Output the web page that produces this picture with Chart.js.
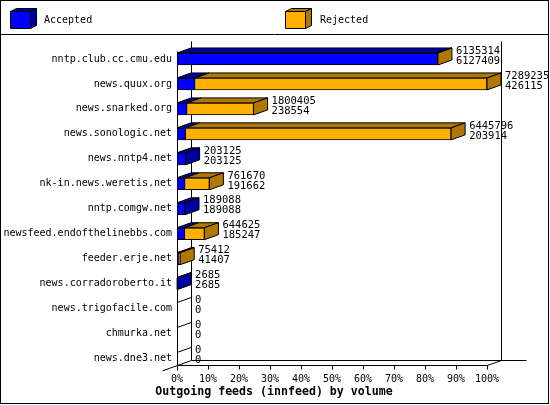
<!DOCTYPE html>
<html>
<head>
<meta charset="utf-8">
<script src="https://cdn.jsdelivr.net/npm/chart.js@4/dist/chart.umd.min.js"></script>
<style>
  html, body { margin: 0; padding: 0; background: #fff; }
  canvas { display: block; }
</style>
</head>
<body>
<canvas id="feedChart" width="550" height="405"></canvas>
<script>
// Data
const feeds = [
    'nntp.club.cc.cmu.edu', 'news.quux.org', 'news.snarked.org', 'news.sonologic.net',
    'news.nntp4.net', 'nk-in.news.weretis.net', 'nntp.comgw.net', 'newsfeed.endofthelinebbs.com',
    'feeder.erje.net', 'news.corradoroberto.it', 'news.trigofacile.com', 'chmurka.net', 'news.dne3.net'
];
const offered  = [6135314, 7289235, 1800405, 6445796, 203125, 761670, 189088, 644625, 75412, 2685, 0, 0, 0];
const accepted = [6127409, 426115, 238554, 203914, 203125, 191662, 189088, 185247, 41407, 2685, 0, 0, 0];
const rejected = [7905, 6863120, 1561851, 6241882, 0, 570008, 0, 459378, 34005, 0, 0, 0, 0];
const tickLabels = ['0%', '10%', '20%', '30%', '40%', '50%', '60%', '70%', '80%', '90%', '100%'];
const xMax = 7289235;

const DX = 14, DY = 5;
const colors = {
    accepted: { front: '#0000ff', dark: '#0000a0' },
    rejected: { front: '#ffb000', dark: '#b07800' }
};
const monoFont = '"DejaVu Sans Mono", "Liberation Mono", monospace';

function poly(ctx, pts, fill) {
    ctx.beginPath();
    ctx.moveTo(pts[0][0], pts[0][1]);
    for (let i = 1; i < pts.length; i++) ctx.lineTo(pts[i][0], pts[i][1]);
    ctx.closePath();
    if (fill) { ctx.fillStyle = fill; ctx.fill(); }
    ctx.strokeStyle = '#000';
    ctx.lineWidth = 1;
    ctx.stroke();
}

function line(ctx, x1, y1, x2, y2) {
    ctx.beginPath();
    ctx.moveTo(x1, y1);
    ctx.lineTo(x2, y2);
    ctx.stroke();
}

// Walls, floor, legend, title and the 3d faces of the bars
const bars3d = {
    id: 'bars3d',
    beforeDatasetsDraw(chart) {
        const ctx = chart.ctx;
        const xs = chart.scales.x, ys = chart.scales.y;
        const area = chart.chartArea;
        const x0 = Math.round(xs.getPixelForValue(0)) + 0.5;
        const x1 = Math.round(xs.getPixelForValue(xMax)) + 0.5;
        const lastBar = chart.getDatasetMeta(0).data[feeds.length - 1];
        const floorFront = Math.round(lastBar.y + lastBar.height / 2) + 0.5;
        const floorBack = floorFront - DY;
        const wallTop = Math.round(area.top) - 5.5;

        ctx.save();
        ctx.strokeStyle = '#000';
        ctx.lineWidth = 1;
        // back wall
        line(ctx, x0 + DX, wallTop, x0 + DX, floorBack);
        line(ctx, x1 + DX, wallTop, x1 + DX, floorBack);
        // floor
        line(ctx, x0 + DX, floorBack, x1 + DX + 25, floorBack);
        line(ctx, x0, floorFront, x1, floorFront);
        line(ctx, x1, floorFront, x1 + DX, floorBack);
        line(ctx, x0 + DX, floorBack, x0 - 15, floorFront + 15 * DY / DX);
        // front axis
        line(ctx, x0, Math.round(area.top) + 4.5, x0, floorFront + 5);
        xs.ticks.forEach(t => {
            const px = Math.round(xs.getPixelForValue(t.value)) + 0.5;
            line(ctx, px, floorFront, px, floorFront + 4);
        });

        // frame and legend
        ctx.strokeRect(0.5, 0.5, 548, 403);
        line(ctx, 0, 34.5, 549, 34.5);
        [['Accepted', colors.accepted, 10.5, 44], ['Rejected', colors.rejected, 285.5, 320]].forEach(([name, c, lx, tx]) => {
            poly(ctx, [[lx, 11.5], [lx + 20, 11.5], [lx + 26, 8.5], [lx + 6, 8.5]], c.dark);
            poly(ctx, [[lx + 20, 11.5], [lx + 26, 8.5], [lx + 26, 25.5], [lx + 20, 28.5]], c.dark);
            poly(ctx, [[lx, 11.5], [lx + 20, 11.5], [lx + 20, 28.5], [lx, 28.5]], c.front);
            ctx.fillStyle = '#000';
            ctx.font = '10px ' + monoFont;
            ctx.textAlign = 'left';
            ctx.textBaseline = 'middle';
            ctx.fillText(name, tx, 20);
        });

        // title
        ctx.font = 'bold 11.6px ' + monoFont;
        ctx.textAlign = 'center';
        ctx.fillText('Outgoing feeds (innfeed) by volume', 274, 392);
        ctx.restore();
    },
    afterDatasetsDraw(chart) {
        const ctx = chart.ctx;
        const xs = chart.scales.x;
        const acc = chart.getDatasetMeta(0).data;
        const rej = chart.getDatasetMeta(1).data;
        ctx.save();
        ctx.lineWidth = 1;
        feeds.forEach((name, i) => {
            const segs = [
                { el: acc[i], c: colors.accepted, v: accepted[i] },
                { el: rej[i], c: colors.rejected, v: rejected[i] }
            ];
            const y = acc[i].y, h = acc[i].height;
            const top = y - h / 2, bottom = y + h / 2;
            const start = xs.getPixelForValue(0);
            const end = xs.getPixelForValue(offered[i]);
            if (offered[i] === 0) {
                ctx.strokeStyle = '#000';
                line(ctx, start, top, start + DX, top - DY);
            } else {
                let last = null;
                segs.forEach(s => {
                    if (s.v <= 0) return;
                    const a = Math.min(s.el.base, s.el.x), b = Math.max(s.el.base, s.el.x);
                    poly(ctx, [[a, top], [b, top], [b + DX, top - DY], [a + DX, top - DY]], s.c.dark);
                    last = s;
                });
                poly(ctx, [[end, top], [end + DX, top - DY], [end + DX, bottom - DY], [end, bottom]], last.c.dark);
            }
            ctx.fillStyle = '#000';
            ctx.font = '10.5px ' + monoFont;
            ctx.textAlign = 'left';
            ctx.textBaseline = 'middle';
            ctx.fillText(String(offered[i]), end + DX + 4, y - 8);
            ctx.fillText(String(accepted[i]), end + DX + 4, y + 2);
        });
        ctx.restore();
    }
};

new Chart(document.getElementById('feedChart'), {
    type: 'bar',
    data: {
        labels: feeds,
        datasets: [{
            label: 'Accepted',
            data: accepted,
            backgroundColor: colors.accepted.front,
            borderColor: '#000',
            borderWidth: 1,
            borderSkipped: false,
            barThickness: 12
        }, {
            label: 'Rejected',
            data: rejected,
            backgroundColor: colors.rejected.front,
            borderColor: '#000',
            borderWidth: 1,
            borderSkipped: 'left',
            barThickness: 12
        }]
    },
    options: {
        indexAxis: 'y',
        responsive: false,
        animation: false,
        devicePixelRatio: 1,
        layout: { padding: { top: 46.5, right: 63, left: 0, bottom: 0 } },
        plugins: {
            legend: { display: false },
            title: { display: false },
            tooltip: { enabled: false }
        },
        scales: {
            x: {
                stacked: true,
                min: 0,
                max: xMax,
                afterBuildTicks: scale => {
                    scale.ticks = tickLabels.map((t, k) => ({ value: xMax * k / (tickLabels.length - 1) }));
                },
                afterFit: scale => { scale.height = 34; },
                grid: { display: false, drawTicks: false },
                border: { display: false },
                ticks: {
                    padding: 2,
                    maxRotation: 0,
                    autoSkip: false,
                    color: '#000',
                    font: { family: monoFont, size: 10 },
                    callback: (v, idx) => tickLabels[idx]
                }
            },
            y: {
                stacked: true,
                afterFit: scale => { scale.width = 177; },
                grid: { display: false, drawTicks: false },
                border: { display: false },
                ticks: {
                    padding: 5,
                    autoSkip: false,
                    color: '#000',
                    font: { family: monoFont, size: 10 }
                }
            }
        }
    },
    plugins: [bars3d]
});
</script>
</body>
</html>
